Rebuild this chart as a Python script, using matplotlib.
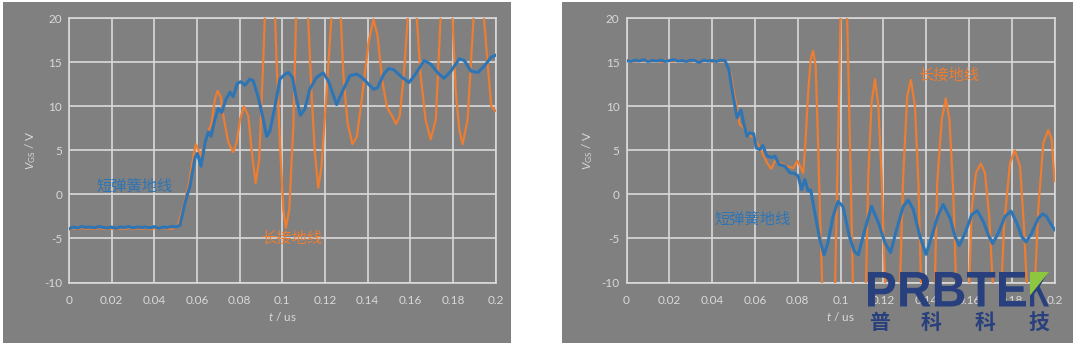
import numpy as np
import matplotlib.pyplot as plt
from matplotlib.patches import Rectangle, Polygon, PathPatch
from matplotlib.textpath import TextPath
from matplotlib.font_manager import FontProperties
from matplotlib.transforms import Affine2D

plt.rcParams['font.family'] = ['Lato', 'Noto Sans CJK SC', 'DejaVu Sans']
plt.rcParams['mathtext.fontset'] = 'custom'
plt.rcParams['mathtext.rm'] = 'Lato'
plt.rcParams['mathtext.it'] = 'Lato:italic'

# ---- data ----
x_ticks = [0, 0.02, 0.04, 0.06, 0.08, 0.1, 0.12, 0.14, 0.16, 0.18, 0.2]
x_labels = ['0', '0.02', '0.04', '0.06', '0.08', '0.1', '0.12', '0.14', '0.16', '0.18', '0.2']
y_ticks = [-10, -5, 0, 5, 10, 15, 20]
y_labels = ['-10', '-5', '0', '5', '10', '15', '20']

# left chart: turn-on, short spring ground (blue)
left_blue_t = [0, 0.002, 0.004, 0.006, 0.008, 0.010, 0.012, 0.014, 0.016, 0.018,
               0.020, 0.022, 0.024, 0.026, 0.028, 0.030, 0.032, 0.034, 0.036, 0.038,
               0.040, 0.042, 0.044, 0.046, 0.048, 0.050, 0.052,
               0.0544, 0.0567, 0.0591, 0.0602, 0.0619, 0.0638, 0.0653, 0.0666, 0.0684, 0.070,
               0.0716, 0.0736, 0.0755, 0.0770, 0.0789, 0.0805, 0.0825, 0.0848, 0.0864, 0.0888,
               0.0911, 0.0927, 0.0942, 0.0966, 0.0989, 0.1013, 0.1028, 0.1048, 0.1065, 0.1085,
               0.1106, 0.1129, 0.1161, 0.1192, 0.1216, 0.1255, 0.1287, 0.1318, 0.135, 0.1373,
               0.1405, 0.1428, 0.1447, 0.1476, 0.1499, 0.1523, 0.1562, 0.1594, 0.1625, 0.1665,
               0.1696, 0.1735, 0.1759, 0.1791, 0.183, 0.1854, 0.1885, 0.1917, 0.1948, 0.198, 0.2]
left_blue_v = [-3.9, -3.7, -3.8, -3.65, -3.75, -3.7, -3.8, -3.65, -3.75, -3.8,
               -3.7, -3.85, -3.7, -3.75, -3.65, -3.8, -3.7, -3.75, -3.7, -3.8,
               -3.65, -3.85, -3.7, -3.75, -3.65, -3.7, -3.5,
               -0.96, 0.93, 4.16, 4.65, 3.2, 5.9, 7.1, 6.6, 8.5, 9.75,
               9.3, 10.8, 11.6, 11.1, 12.6, 12.8, 12.4, 13.1, 12.9, 11.0,
               8.5, 6.6, 7.2, 10.0, 13.1, 13.65, 13.85, 13.3, 11.0, 9.0,
               9.7, 11.95, 13.3, 13.8, 12.9, 10.2, 11.95, 13.5, 13.66, 13.3,
               12.5, 11.95, 12.1, 13.66, 14.3, 14.15, 13.3, 12.7, 13.66, 15.2,
               14.8, 13.66, 13.2, 14.0, 15.4, 15.2, 14.0, 13.85, 14.6, 15.6, 15.8]

# left chart: long ground lead (orange)
left_orange_t = [0, 0.002, 0.004, 0.006, 0.008, 0.010, 0.012, 0.014, 0.016, 0.018,
                 0.020, 0.022, 0.024, 0.026, 0.028, 0.030, 0.032, 0.034, 0.036, 0.038,
                 0.040, 0.042, 0.044, 0.046, 0.048, 0.050, 0.0513,
                 0.0536, 0.056, 0.0583, 0.0595, 0.0609, 0.0618, 0.0645, 0.0669, 0.0684, 0.0697,
                 0.0711, 0.0727, 0.0747, 0.077, 0.0786, 0.0802, 0.082, 0.0841, 0.0856, 0.0875,
                 0.0892, 0.0908, 0.0919, 0.093, 0.0942, 0.0955, 0.0966, 0.0973, 0.0989, 0.1005,
                 0.1017, 0.1033, 0.1052, 0.1065, 0.1078, 0.1093, 0.1108, 0.1121, 0.1137, 0.1153,
                 0.1169, 0.1184, 0.1208, 0.1231, 0.1242, 0.1253, 0.1264, 0.1274, 0.1287, 0.1306,
                 0.1329, 0.135, 0.1373, 0.1405, 0.1428, 0.1447, 0.1468, 0.1491, 0.1515, 0.1534,
                 0.1551, 0.157, 0.1589, 0.16, 0.161, 0.162, 0.163, 0.1649, 0.1672, 0.1696,
                 0.172, 0.1743, 0.1757, 0.177, 0.1784, 0.1798, 0.1814, 0.183, 0.1846, 0.1869,
                 0.1898, 0.191, 0.1922, 0.1934, 0.1945, 0.1964, 0.198, 0.2]
left_orange_v = [-3.95, -3.85, -3.9, -3.8, -3.9, -3.85, -3.95, -3.8, -3.9, -3.85,
                 -3.9, -3.95, -3.85, -3.9, -3.8, -3.9, -3.85, -3.9, -3.8, -3.95,
                 -3.85, -3.9, -3.8, -3.85, -3.9, -3.8, -3.3,
                 -1.35, 0.93, 4.35, 5.7, 4.9, 4.4, 6.6, 8.15, 10.8, 11.75,
                 11.1, 8.5, 5.9, 4.8, 5.9, 8.5, 10.0, 8.9, 5.1, 1.3,
                 4.0, 13.5, 20.5, 25.5, 27, 25.5, 20.5, 15.4, 5.9, -1.7,
                 -3.8, -1.7, 7.8, 20.3, 24, 25.5, 24, 20.3, 11.6, 4.7,
                 0.74, 3.2, 11.6, 20.3, 24, 25.5, 24, 20.3, 13.5, 8.15,
                 5.7, 6.6, 10.8, 17.3, 19.9, 18.0, 13.1, 9.9, 8.9, 8.0,
                 8.9, 13.5, 20.3, 23.5, 24.5, 23.5, 20.3, 13.5, 8.5, 6.25,
                 8.5, 20.3, 25, 26.5, 25, 20.3, 11.6, 7.4, 5.7, 8.5,
                 20.3, 25, 26, 25, 20.3, 14.6, 10.0, 9.5]

# right chart: turn-off, short spring ground (blue)
right_blue_t = [0, 0.002, 0.004, 0.006, 0.008, 0.010, 0.012, 0.014, 0.016, 0.018,
                0.020, 0.022, 0.024, 0.026, 0.028, 0.030, 0.032, 0.034, 0.036, 0.038,
                0.040, 0.042, 0.044, 0.046,
                0.0478, 0.0493, 0.0509, 0.0517, 0.0524, 0.0535, 0.0547, 0.0563, 0.0574, 0.0594,
                0.0606, 0.0622, 0.0637, 0.0656, 0.0679, 0.0694, 0.0713, 0.0741, 0.0764, 0.0784,
                0.0802, 0.0818, 0.0833, 0.0849, 0.0861, 0.088, 0.0903, 0.0923, 0.0941, 0.0965,
                0.0988, 0.1011, 0.1042, 0.1065, 0.1083, 0.1114, 0.1145, 0.1177, 0.1208, 0.1234,
                0.1262, 0.1293, 0.1317, 0.134, 0.1371, 0.14, 0.1426, 0.1457, 0.148, 0.1512,
                0.1535, 0.1555, 0.1582, 0.1613, 0.1639, 0.1667, 0.1691, 0.1711, 0.1737, 0.1769,
                0.1797, 0.1823, 0.1846, 0.1867, 0.1893, 0.1924, 0.1945, 0.1963, 0.1979, 0.2]
right_blue_v = [15.2, 15.1, 15.25, 15.15, 15.3, 15.1, 15.2, 15.15, 15.25, 15.1,
                15.2, 15.3, 15.15, 15.2, 15.1, 15.25, 15.2, 15.0, 15.25, 15.15,
                15.2, 15.1, 15.25, 15.2,
                14.2, 11.95, 9.7, 8.7, 9.1, 9.6, 8.15, 6.6, 7.0, 6.9,
                5.3, 5.1, 5.55, 4.35, 4.2, 4.35, 3.4, 3.2, 2.45, 2.4,
                2.1, 0.55, 1.7, 0.37, 0.5, -2.1, -5.1, -6.85, -5.5, -2.5,
                -0.8, -1.35, -4.8, -6.5, -6.85, -4.0, -1.35, -3.2, -5.5, -6.6,
                -4.0, -1.35, -0.66, -1.7, -4.76, -6.8, -4.76, -2.3, -1.15, -2.7,
                -4.76, -5.8, -4.4, -2.3, -1.85, -3.05, -4.6, -5.6, -4.4, -2.5,
                -1.9, -3.2, -4.76, -5.4, -4.4, -2.7, -2.2, -2.5, -3.2, -4.0]

# right chart: long ground lead (orange)
right_orange_t = [0, 0.002, 0.004, 0.006, 0.008, 0.010, 0.012, 0.014, 0.016, 0.018,
                  0.020, 0.022, 0.024, 0.026, 0.028, 0.030, 0.032, 0.034, 0.036, 0.038,
                  0.040, 0.042, 0.044, 0.046,
                  0.0486, 0.0501, 0.0517, 0.0529, 0.0547, 0.0571, 0.0594, 0.0614, 0.0636, 0.0656,
                  0.0676, 0.0694, 0.0717, 0.0748, 0.0779, 0.0799, 0.0815, 0.0826, 0.0836, 0.0849,
                  0.0861, 0.0872, 0.0884, 0.0895, 0.0906, 0.0914, 0.093, 0.0945, 0.096, 0.0975,
                  0.0985, 0.0993, 0.1, 0.1008, 0.1016, 0.1024, 0.1031, 0.1045, 0.1058, 0.1075,
                  0.109, 0.1105, 0.1119, 0.113, 0.1145, 0.1161, 0.1177, 0.1192, 0.1208, 0.1228,
                  0.1243, 0.1258, 0.1278, 0.1293, 0.1312, 0.1329, 0.1348, 0.1364, 0.1376, 0.1393,
                  0.1408, 0.1423, 0.1441, 0.1452, 0.1473, 0.1492, 0.1509, 0.1527, 0.154, 0.156,
                  0.1572, 0.1585, 0.1602, 0.1613, 0.1633, 0.1656, 0.1675, 0.1695, 0.1711, 0.1725,
                  0.1733, 0.1741, 0.1753, 0.1764, 0.1792, 0.1815, 0.1839, 0.1857, 0.187, 0.1882,
                  0.189, 0.1898, 0.1909, 0.1924, 0.1948, 0.1971, 0.1987, 0.2]
right_orange_v = [15.1, 15.2, 15.05, 15.2, 15.1, 15.25, 15.1, 15.2, 15.0, 15.2,
                  15.15, 15.1, 15.25, 15.1, 15.2, 15.05, 15.2, 15.15, 15.1, 15.2,
                  15.05, 15.2, 15.1, 15.15,
                  13.85, 11.75, 9.7, 7.96, 7.6, 6.8, 6.4, 5.7, 4.7, 3.6,
                  2.9, 3.8, 3.6, 3.2, 3.0, 3.8, 3.0, 2.45, 5.9, 11.6,
                  15.4, 16.3, 14.6, 5.9, -3.6, -10, -15.5, -17, -15.5, -10,
                  2.0, 11, 20, 23.5, 24.5, 23.5, 20, 5.0, -10, -15.5,
                  -16.5, -15.5, -10, 2.1, 10.4, 13.1, 10.0, 2.1, -10, -15,
                  -16, -15, -10, 2.1, 11.2, 13.0, 10, 1.3, -10, -14,
                  -15, -14, -10, 1.3, 8.5, 10.9, 8.5, 0.2, -10, -13.5,
                  -14, -13.5, -10, -1.7, 2.45, 3.5, 2.45, -2.5, -10, -13,
                  -13.5, -13, -10, -3.6, 3.6, 5.0, 3.2, -3.6, -10, -12.5,
                  -13, -12.5, -10, -1.7, 5.9, 7.3, 6.25, 1.5]

BLUE = '#2e75b6'
ORANGE = '#ed7d31'
PANEL = '#808080'
GRID = '#d9d9d9'
NAVY = '#28407d'
GREEN = '#8dc63f'

W, H = 1073, 346
fig = plt.figure(figsize=(W / 100, H / 100), dpi=100)
fig.patch.set_facecolor('white')


def px_rect(x0, y0, x1, y1):
    # pixel box (top-left origin) -> figure fraction [left, bottom, width, height]
    return [x0 / W, 1 - y1 / H, (x1 - x0) / W, (y1 - y0) / H]


# gray panels
for x0, x1 in [(3, 511), (562, 1073)]:
    l, b, w, h = px_rect(x0, 2, x1, 343)
    fig.add_artist(Rectangle((l, b), w, h, transform=fig.transFigure,
                             facecolor=PANEL, edgecolor='none', zorder=0))

ax1 = fig.add_axes(px_rect(69, 18.3, 495.5, 282.5))
ax2 = fig.add_axes(px_rect(626.5, 18.3, 1054.5, 282.5))


def style(ax):
    ax.set_facecolor(PANEL)
    ax.set_xlim(0, 0.2)
    ax.set_ylim(-10, 20)
    ax.set_xticks(x_ticks)
    ax.set_xticklabels(x_labels)
    ax.set_yticks(y_ticks)
    ax.set_yticklabels(y_labels)
    ax.tick_params(axis='x', length=0, pad=9, labelsize=8.5, labelcolor=GRID)
    ax.tick_params(axis='y', length=0, pad=5, labelsize=8.5, labelcolor=GRID)
    ax.grid(True, color=GRID, linewidth=1.2)
    ax.set_axisbelow(True)
    for s in ax.spines.values():
        s.set_color(GRID)
        s.set_linewidth(1.2)
    ax.text(0.5, -0.13, '$t$ / us', transform=ax.transAxes, ha='center', va='center',
            fontsize=8.5, color=GRID)
    ax.text(-0.09, 0.5, r'$V_{\rm GS}$ / V', transform=ax.transAxes, ha='center',
            va='center', rotation=90, fontsize=8.5, color=GRID)


style(ax1)
style(ax2)

ax1.plot(left_orange_t, left_orange_v, color=ORANGE, lw=1.6, zorder=3)
ax1.plot(left_blue_t, left_blue_v, color=BLUE, lw=2.2, zorder=4)
ax2.plot(right_orange_t, right_orange_v, color=ORANGE, lw=1.6, zorder=3)
ax2.plot(right_blue_t, right_blue_v, color=BLUE, lw=2.2, zorder=4)

ax1.text(0.013, 0.9, '短弹簧地线', color=BLUE, fontsize=11, ha='left', va='center', zorder=5)
ax1.text(0.0903, -5.1, '长接地线', color=ORANGE, fontsize=11, ha='left', va='center', zorder=5)
ax2.text(0.0413, -2.9, '短弹簧地线', color=BLUE, fontsize=11, ha='left', va='center', zorder=5)
ax2.text(0.1364, 13.5, '长接地线', color=ORANGE, fontsize=11, ha='left', va='center', zorder=5)

# PRBTEK watermark
fp = FontProperties(family='Liberation Sans', weight='bold')


def put_path(s, x0, x1, ytop, ybot):
    tp = TextPath((0, 0), s, size=1, prop=fp)
    bb = tp.get_extents()
    sx = (x1 - x0) / bb.width
    sy = (ybot - ytop) / bb.height
    tr = (Affine2D().translate(-bb.x0, -bb.y0).scale(sx / W, sy / H)
          .translate(x0 / W, 1 - ybot / H) + fig.transFigure)
    fig.add_artist(PathPatch(tp, transform=tr, facecolor=NAVY, edgecolor='none', zorder=10))


put_path('PRBTE', 868, 1026, 272, 306.5)
put_path('K', 1030, 1049, 272, 306.5)
tri = [(1030, 272), (1049, 272), (1030, 295.5)]
fig.add_artist(Polygon([(x / W, 1 - y / H) for x, y in tri], closed=True,
                       transform=fig.transFigure, facecolor=GREEN, edgecolor='none', zorder=11))

for ch, cx in zip(['普', '科', '科', '技'], [879.5, 931, 985, 1039]):
    fig.text(cx / W, 1 - 322.6 / H, ch, ha='center', va='center', fontsize=15,
             fontweight='bold', color=NAVY, family=['Noto Sans CJK SC', 'DejaVu Sans'],
             zorder=10)

fig.savefig('out.png', dpi=100)
